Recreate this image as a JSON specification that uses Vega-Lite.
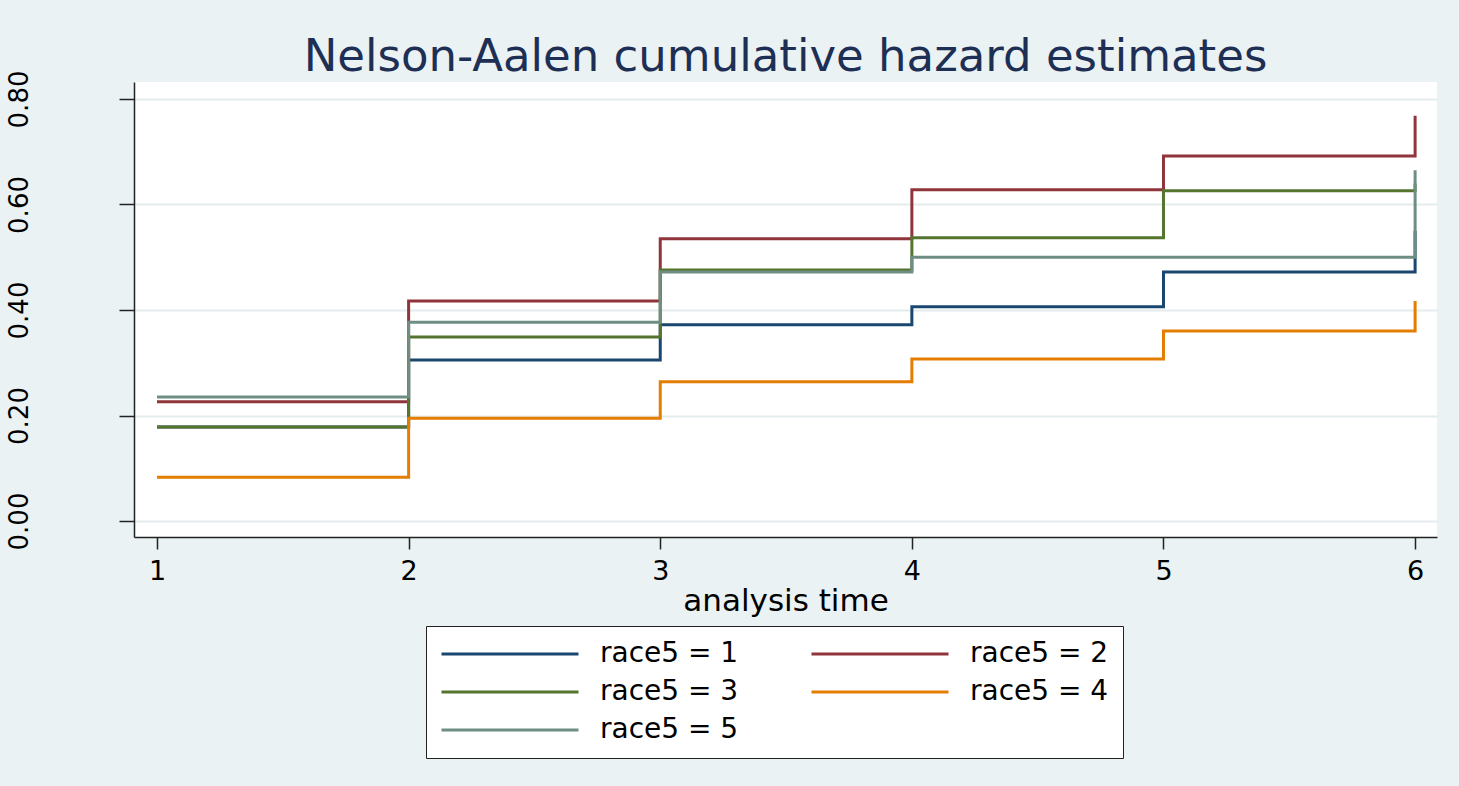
{
  "$schema": "https://vega.github.io/schema/vega-lite/v6.json",
  "width": 1303,
  "height": 455,
  "autosize": "none",
  "padding": {"left": 134, "top": 82, "right": 22, "bottom": 249},
  "background": "#eaf2f3",
  "config": {"view": {"fill": "white", "stroke": null}, "font": "DejaVu Sans"},
  "title": {
    "text": "Nelson-Aalen cumulative hazard estimates",
    "font": "DejaVu Sans",
    "fontSize": 45,
    "fontWeight": "normal",
    "color": "#1e2f55",
    "anchor": "middle",
    "frame": "group",
    "baseline": "alphabetic",
    "offset": -46
  },
  "data": {
    "values": [
      {"time": 1, "hazard": 0.178, "group": "race5 = 1"},
      {"time": 2, "hazard": 0.305, "group": "race5 = 1"},
      {"time": 3, "hazard": 0.372, "group": "race5 = 1"},
      {"time": 4, "hazard": 0.406, "group": "race5 = 1"},
      {"time": 5, "hazard": 0.472, "group": "race5 = 1"},
      {"time": 6, "hazard": 0.55, "group": "race5 = 1"},
      {"time": 1, "hazard": 0.226, "group": "race5 = 2"},
      {"time": 2, "hazard": 0.417, "group": "race5 = 2"},
      {"time": 3, "hazard": 0.535, "group": "race5 = 2"},
      {"time": 4, "hazard": 0.628, "group": "race5 = 2"},
      {"time": 5, "hazard": 0.692, "group": "race5 = 2"},
      {"time": 6, "hazard": 0.768, "group": "race5 = 2"},
      {"time": 1, "hazard": 0.178, "group": "race5 = 3"},
      {"time": 2, "hazard": 0.349, "group": "race5 = 3"},
      {"time": 3, "hazard": 0.476, "group": "race5 = 3"},
      {"time": 4, "hazard": 0.537, "group": "race5 = 3"},
      {"time": 5, "hazard": 0.626, "group": "race5 = 3"},
      {"time": 6, "hazard": 0.64, "group": "race5 = 3"},
      {"time": 1, "hazard": 0.083, "group": "race5 = 4"},
      {"time": 2, "hazard": 0.195, "group": "race5 = 4"},
      {"time": 3, "hazard": 0.264, "group": "race5 = 4"},
      {"time": 4, "hazard": 0.307, "group": "race5 = 4"},
      {"time": 5, "hazard": 0.36, "group": "race5 = 4"},
      {"time": 6, "hazard": 0.417, "group": "race5 = 4"},
      {"time": 1, "hazard": 0.235, "group": "race5 = 5"},
      {"time": 2, "hazard": 0.377, "group": "race5 = 5"},
      {"time": 3, "hazard": 0.472, "group": "race5 = 5"},
      {"time": 4, "hazard": 0.5, "group": "race5 = 5"},
      {"time": 5, "hazard": 0.5, "group": "race5 = 5"},
      {"time": 6, "hazard": 0.665, "group": "race5 = 5"}
    ]
  },
  "mark": {"type": "line", "interpolate": "step-after", "strokeWidth": 3, "clip": false},
  "encoding": {
    "x": {
      "field": "time",
      "type": "quantitative",
      "scale": {"domain": [0.9086, 6.087], "nice": false, "zero": false},
      "axis": {
        "values": [1, 2, 3, 4, 5, 6],
        "format": "d",
        "grid": false,
        "labelFont": "DejaVu Sans",
        "labelFontSize": 27,
        "labelColor": "black",
        "labelPadding": 9,
        "labelFlush": false,
        "labelOverlap": false,
        "tickSize": 12,
        "tickColor": "#222222",
        "tickWidth": 1.5,
        "domainColor": "#222222",
        "domainWidth": 1.5,
        "title": "analysis time",
        "titleFont": "DejaVu Sans",
        "titleFontSize": 31,
        "titleFontWeight": "normal",
        "titleColor": "black",
        "titlePadding": 2
      }
    },
    "y": {
      "field": "hazard",
      "type": "quantitative",
      "scale": {"domain": [-0.0303, 0.8322], "nice": false, "zero": false},
      "axis": {
        "values": [0, 0.2, 0.4, 0.6, 0.8],
        "format": ".2f",
        "grid": true,
        "gridColor": "#e4ecee",
        "gridWidth": 2,
        "labelAngle": 270,
        "labelAlign": "center",
        "labelBaseline": "alphabetic",
        "labelFont": "DejaVu Sans",
        "labelFontSize": 26,
        "labelColor": "black",
        "labelPadding": 92,
        "labelOverlap": false,
        "labelFlush": false,
        "tickSize": 15,
        "tickColor": "#222222",
        "tickWidth": 1.5,
        "domainColor": "#222222",
        "domainWidth": 1.5,
        "title": null
      }
    },
    "color": {
      "field": "group",
      "type": "nominal",
      "scale": {
        "domain": ["race5 = 1", "race5 = 2", "race5 = 3", "race5 = 4", "race5 = 5"],
        "range": ["#1a476f", "#90353b", "#55752f", "#e37e00", "#6e8e84"]
      },
      "legend": {
        "title": null,
        "orient": "none",
        "direction": "horizontal",
        "legendX": 292,
        "legendY": 544,
        "columns": 2,
        "symbolType": "stroke",
        "symbolSize": 18769,
        "symbolStrokeWidth": 3,
        "labelFont": "DejaVu Sans",
        "labelFontSize": 28,
        "labelColor": "black",
        "labelLimit": 400,
        "labelOffset": 20,
        "columnPadding": 71,
        "rowPadding": 10,
        "padding": 14,
        "clipHeight": 28,
        "strokeColor": "#222222",
        "fillColor": "white"
      }
    }
  }
}
